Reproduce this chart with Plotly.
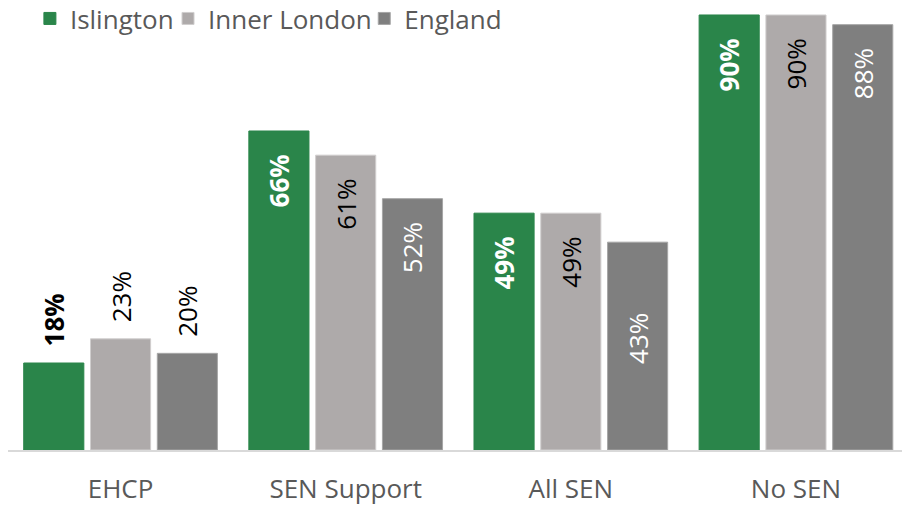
import plotly.graph_objects as go

categories = ["EHCP", "SEN Support", "All SEN", "No SEN"]
series_names = ["Islington", "Inner London", "England"]
islington = [18, 66, 49, 90]
inner_london = [23, 61, 49, 90]
england = [20, 52, 43, 88]

colors = ["#2A854A", "#AEAAAA", "#7F7F7F"]
outline_colors = ["#2A854A", "#D0CECE", "#A6A6A6"]
positions = ["outside", "inside", "inside", "inside"]
text_colors = [
    ["#000000", "#FFFFFF", "#FFFFFF", "#FFFFFF"],
    ["#000000", "#000000", "#000000", "#000000"],
    ["#000000", "#FFFFFF", "#FFFFFF", "#FFFFFF"],
]
weights = ["bold", "normal", "normal"]
legend_ids = ["legend", "legend2", "legend3"]
legend_x = [0.0245, 0.179, 0.3985]

NB = "\u00a0"


def label(v, pos, extra=0):
    if pos == "outside":
        return NB * 2 + f"{v}%"
    return f"{v}%" + NB * (3 + extra)


fig = go.Figure()
for i, (name, vals) in enumerate(zip(series_names, [islington, inner_london, england])):
    texts = []
    for j, v in enumerate(vals):
        extra = 7 if (name == "England" and categories[j] == "All SEN") else 0
        texts.append(label(v, positions[j], extra))
    fig.add_trace(go.Bar(
        name=name,
        x=categories,
        y=vals,
        text=texts,
        textposition=positions,
        insidetextanchor="end",
        textangle=-90,
        constraintext="none",
        cliponaxis=False,
        textfont=dict(family="Open Sans", size=26, color=text_colors[i], weight=weights[i]),
        marker=dict(color=colors[i], line=dict(width=1, color=outline_colors[i])),
        hoverinfo="skip",
        legend=legend_ids[i],
    ))

legend_common = dict(
    y=1.011,
    xanchor="left",
    yanchor="top",
    font=dict(family="Open Sans", size=26, color="#595959"),
    bgcolor="rgba(0,0,0,0)",
    itemwidth=30,
)

fig.update_layout(
    width=902,
    height=505,
    margin=dict(l=8, r=0, t=0, b=55, autoexpand=False),
    paper_bgcolor="white",
    plot_bgcolor="white",
    barmode="group",
    bargap=0.11,
    bargroupgap=0.10,
    font=dict(family="Open Sans", color="#595959", size=26),
    showlegend=True,
    legend=dict(x=legend_x[0], **legend_common),
    legend2=dict(x=legend_x[1], **legend_common),
    legend3=dict(x=legend_x[2], **legend_common),
    xaxis=dict(
        range=[-0.5, 3.471],
        showline=True,
        linecolor="#D9D9D9",
        linewidth=2,
        ticks="",
        tickfont=dict(size=26, color="#595959"),
        ticklabelstandoff=15,
        showgrid=False,
        zeroline=False,
        automargin=False,
    ),
    yaxis=dict(
        range=[0, 93.1],
        visible=False,
        showgrid=False,
        zeroline=False,
        automargin=False,
    ),
)

fig.write_html(
    "out.html",
    config={"displayModeBar": False},
    post_script="document.body.style.margin='0';",
)
